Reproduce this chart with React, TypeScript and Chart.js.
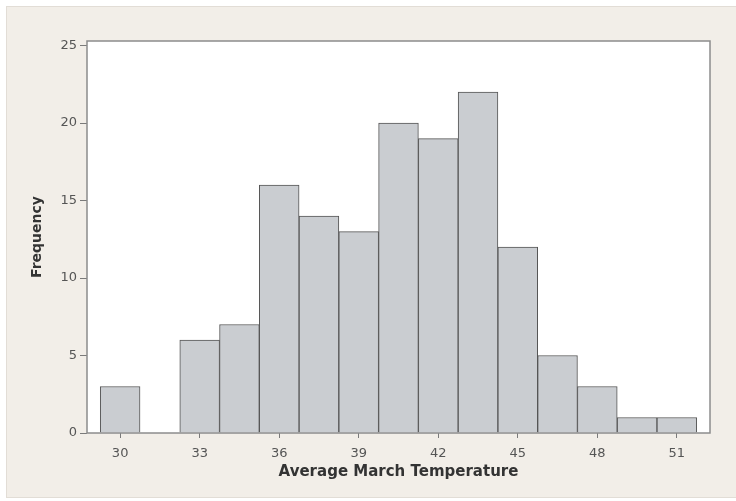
import React, { useEffect, useRef } from "react";
import { Chart, registerables } from "chart.js";

Chart.register(...registerables);

const binCenters = [30, 31.5, 33, 34.5, 36, 37.5, 39, 40.5, 42, 43.5, 45, 46.5, 48, 49.5, 51];
const frequencies = [3, 0, 6, 7, 16, 14, 13, 20, 19, 22, 12, 5, 3, 1, 1];
const xTickValues = [30, 33, 36, 39, 42, 45, 48, 51];
const yTickValues = [0, 5, 10, 15, 20, 25];
const xTitle = "Average March Temperature";
const yTitle = "Frequency";

const FONT = "'DejaVu Sans', Verdana, sans-serif";

const backgroundPlugin = {
  id: "minitabBackground",
  beforeDraw(chart: any) {
    const { ctx, width, height, chartArea } = chart;
    ctx.save();
    ctx.fillStyle = "#ffffff";
    ctx.fillRect(0, 0, width, height);
    ctx.fillStyle = "#f2eee8";
    ctx.fillRect(6, 6, width - 6, height - 9);
    ctx.strokeStyle = "#e2ddd6";
    ctx.lineWidth = 1;
    ctx.strokeRect(6.5, 6.5, width - 6, height - 10);
    ctx.fillStyle = "#ffffff";
    ctx.fillRect(chartArea.left, chartArea.top, chartArea.right - chartArea.left, chartArea.bottom - chartArea.top);
    ctx.restore();
  },
  afterDraw(chart: any) {
    const { ctx, chartArea } = chart;
    ctx.save();
    ctx.strokeStyle = "#8c8c8c";
    ctx.lineWidth = 1.5;
    ctx.strokeRect(chartArea.left, chartArea.top, chartArea.right - chartArea.left, chartArea.bottom - chartArea.top);
    ctx.restore();
  },
};

export default function App() {
  const canvasRef = useRef<HTMLCanvasElement | null>(null);

  useEffect(() => {
    if (!canvasRef.current) return;
    const chart = new Chart(canvasRef.current, {
      type: "bar",
      data: {
        datasets: [
          {
            data: binCenters.map((x, i) => ({ x, y: frequencies[i] === 0 ? null : frequencies[i] })) as any,
            backgroundColor: "#cacdd1",
            borderColor: "#555555",
            borderWidth: 1,
            barPercentage: 1,
            categoryPercentage: 1,
          },
        ],
      },
      plugins: [backgroundPlugin],
      options: {
        responsive: false,
        animation: false,
        layout: { padding: { left: 0, top: 41, right: 26, bottom: 0 } },
        plugins: { legend: { display: false }, tooltip: { enabled: false } },
        scales: {
          x: {
            type: "linear",
            min: 28.75,
            max: 52.25,
            offset: false,
            afterBuildTicks: (scale: any) => {
              scale.ticks = xTickValues.map((v) => ({ value: v }));
            },
            afterFit: (scale: any) => {
              scale.height = 68;
            },
            grid: { display: true, drawOnChartArea: false, offset: false, tickLength: 5, color: "#7a7a7a", lineWidth: 1 },
            border: { display: false },
            ticks: { color: "#555555", font: { family: FONT, size: 13 }, padding: 8, maxRotation: 0, autoSkip: false },
            title: {
              display: true,
              text: xTitle,
              color: "#333333",
              font: { family: FONT, size: 15, weight: "bold" },
              padding: { top: 0, bottom: 20 },
            },
          },
          y: {
            type: "linear",
            min: 0,
            max: 25.3,
            afterBuildTicks: (scale: any) => {
              scale.ticks = yTickValues.map((v) => ({ value: v }));
            },
            afterFit: (scale: any) => {
              scale.width = 87;
            },
            grid: { display: true, drawOnChartArea: false, tickLength: 7, color: "#7a7a7a", lineWidth: 1 },
            border: { display: false },
            ticks: { color: "#555555", font: { family: FONT, size: 13 }, padding: 3 },
            title: {
              display: true,
              text: yTitle,
              color: "#333333",
              font: { family: FONT, size: 14, weight: "bold" },
              padding: { top: 29, bottom: 0 },
            },
          },
        },
      },
    });
    return () => chart.destroy();
  }, []);

  return (
    <div style={{ position: "absolute", left: 0, top: 0, width: 736, height: 501 }}>
      <canvas ref={canvasRef} width={736} height={501} style={{ display: "block", width: 736, height: 501 }} />
    </div>
  );
}
